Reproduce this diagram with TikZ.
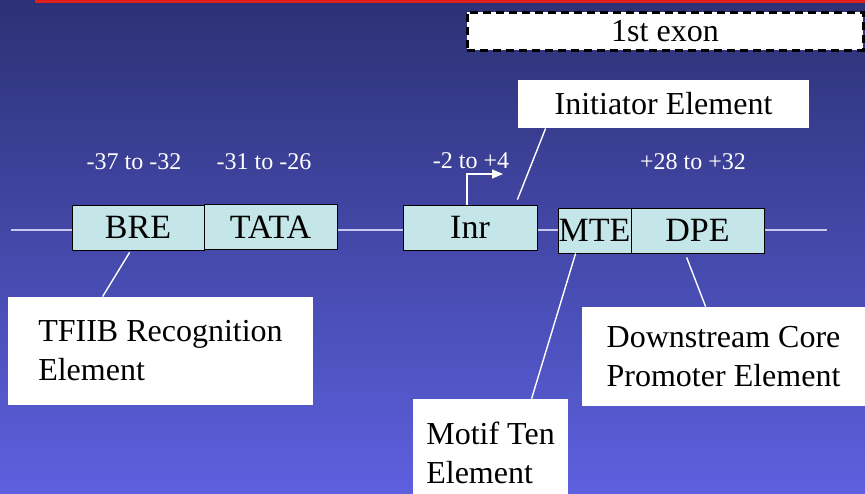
\documentclass[tikz,border=0pt]{standalone}
\usepackage{fontspec}
\setmainfont{Liberation Serif}
\usetikzlibrary{arrows.meta}
\definecolor{bgtop}{RGB}{44,49,117}
\definecolor{bgbottom}{RGB}{92,96,222}
\definecolor{boxfill}{RGB}{197,230,232}
\definecolor{dnacolor}{RGB}{200,200,240}
\definecolor{titlered}{RGB}{224,30,30}
\tikzset{
  element/.style={draw=black, thin, fill=boxfill, minimum height=22.5pt, inner sep=0pt,
    font=\fontsize{17}{20}\selectfont},
  callout/.style={fill=white, align=left, inner sep=0pt, font=\fontsize{16}{19.5}\selectfont},
  position/.style={text=white, anchor=base, inner sep=0pt, font=\fontsize{12}{14}\selectfont},
  pointer/.style={white, line width=0.7pt},
}
\begin{document}
\begin{tikzpicture}[x=0.5pt,y=-0.5pt]
    \useasboundingbox (0,0) rectangle (865,493);
    \shade [top color=bgtop, bottom color=bgbottom] (0,0) rectangle (865,493);% Draw background
    \fill [titlered] (35,0) rectangle (865,3);% Draw title rule

    \coordinate (DNAStart) at (11,230);
    \coordinate (DNAEnd)   at (827,230);
    \draw [dnacolor, line width=1pt] (DNAStart) -- (DNAEnd);% Draw DNA

    \node [element, minimum width=66pt]   (BRE)  at (138,227.5)   {BRE};
    \node [element, minimum width=66.5pt] (TATA) at (270.5,227)   {TATA};
    \node [element, minimum width=67pt]   (Inr)  at (470,227.5)   {Inr};
    \node [element, minimum width=36.5pt] (MTE)  at (594.5,230.5) {MTE};
    \node [element, minimum width=66.5pt] (DPE)  at (697.5,230.5) {DPE};

    \node [position] (BREPos)  at (134,169) {-37 to -32};
    \node [position] (TATAPos) at (264,169) {-31 to -26};
    \node [position] (InrPos)  at (471,168) {-2 to +4};
    \node [position] (DPEPos)  at (693,169) {+28 to +32};

    \coordinate (TSS)    at (467,174);
    \coordinate (TSSTip) at (503,174);
    \draw [pointer, -{Triangle[length=5.5pt,width=4.5pt]}] (Inr.north -| TSS) -- (TSS) -- (TSSTip);% Draw start site

    \node [draw=black, line width=1.5pt, dash pattern=on 4pt off 2.5pt, fill=white,
      minimum width=198pt, minimum height=19pt, inner sep=0pt, font=\fontsize{16}{19}\selectfont]
      (Exon) at (665,31) {1st exon};

    \node [callout, minimum width=145.5pt, minimum height=24pt] (Init)  at (663.5,104)  {Initiator Element};
    \node [callout, minimum width=152.5pt, minimum height=54pt] (TFIIB) at (160.5,351)  {TFIIB Recognition\\Element};
    \node [callout, minimum width=77.5pt,  minimum height=54pt] (Motif) at (490.5,453)  {Motif Ten\\Element};
    \node [callout, minimum width=141.5pt, minimum height=49.5pt] (Down) at (723.5,356.5) {Downstream Core\\Promoter Element};

    \draw [pointer] ([xshift=-10pt,yshift=2.5pt]Inr.north east) -- ([xshift=14pt]Init.south west);
    \draw [pointer] ([xshift=29pt,yshift=-1pt]BRE.south west) -- ([xshift=47.5pt]TFIIB.north west);
    \draw [pointer] ([xshift=9pt]MTE.south west) -- ([xshift=59.5pt]Motif.north west);
    \draw [pointer] ([xshift=28pt,yshift=-2pt]DPE.south west) -- ([xshift=62pt]Down.north west);

  \end{tikzpicture}
\end{document}
